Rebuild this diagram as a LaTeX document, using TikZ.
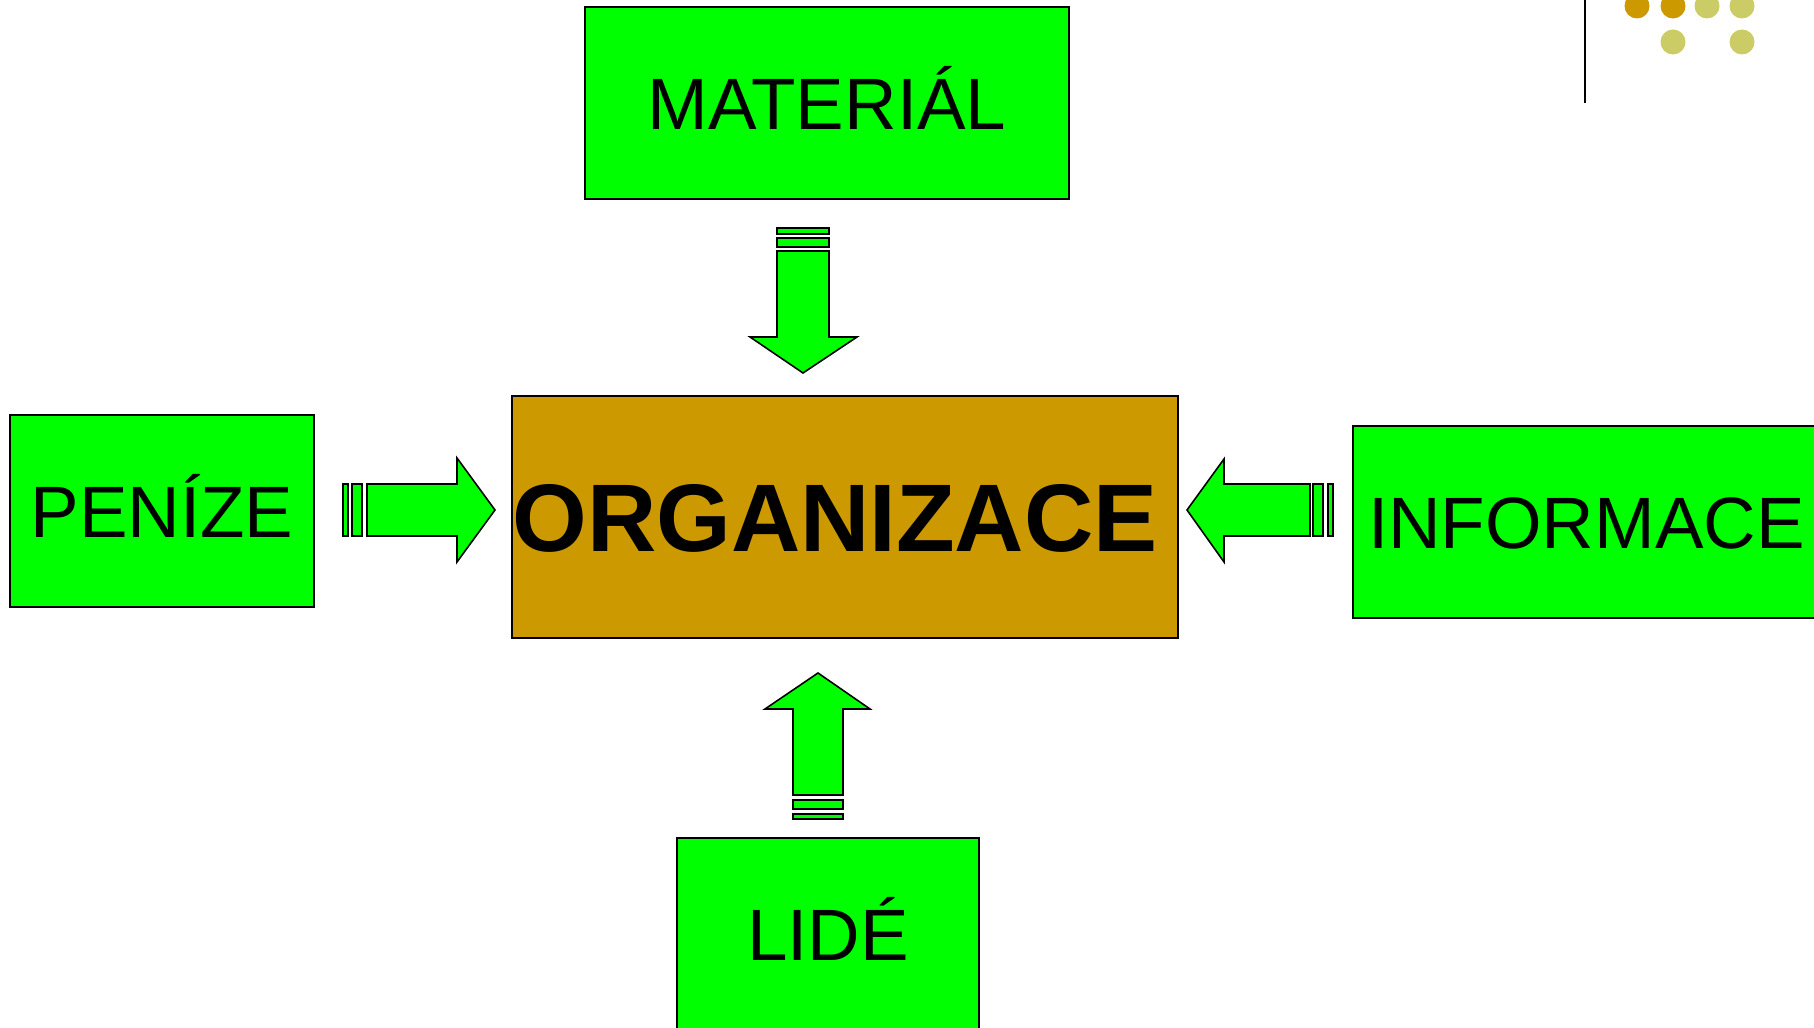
\documentclass[tikz,border=0pt]{standalone}
\usepackage{fontspec}
\setmainfont{Liberation Sans}
\usepackage{tikz}
\usetikzlibrary{positioning}
\definecolor{boxgreen}{HTML}{00FF00}
\definecolor{orggold}{HTML}{CC9900}
\definecolor{paleolive}{HTML}{CCCC66}

\begin{document}
\begin{tikzpicture}[x=0.01cm, y=-0.01cm,
  box/.style={draw, line width=0.6pt, fill=boxgreen, inner sep=0pt, text height=14.8pt, text depth=-1.2pt, font=\fontsize{20.7}{25}\selectfont},
  blockarrow/.style={draw, line width=0.45pt, fill=boxgreen, line join=miter}]
\useasboundingbox (0,0) rectangle (1814,1028);
\clip (0,0) rectangle (1814,1028);

\node[box, minimum width=4.84cm, minimum height=1.92cm] (mat) at (827,103) {MATERIÁL};
\node[box, fill=orggold, minimum width=6.65cm, minimum height=2.42cm, text width=6.65cm, align=left, text height=19.6pt, text depth=-0.4pt, font=\fontsize{27.3}{32}\selectfont\bfseries] (org) at (845,517) {ORGANIZACE};
\node[box, minimum width=3.03cm, minimum height=1.92cm] (pen) at (162,511) {PENÍZE};
\node[box, anchor=west, minimum width=4.8cm, minimum height=1.92cm, text width=4.5cm, inner xsep=0.14cm, align=left] (inf) at (1352,522) {INFORMACE};
\node[box, minimum width=3.02cm, minimum height=1.91cm] (lid) at (828,934) {LIDÉ};

% material -> organizace
\draw[blockarrow] (777,228) rectangle (829,234);
\draw[blockarrow] (777,238) rectangle (829,247);
\draw[blockarrow] (777,251) -- (829,251) -- (829,337) -- (857,337) -- (803,373) -- (750,337) -- (777,337) -- cycle;

% penize -> organizace
\draw[blockarrow] (343,484) rectangle (348,536);
\draw[blockarrow] (352,484) rectangle (362,536);
\draw[blockarrow] (367,484) -- (457,484) -- (457,458) -- (495,510) -- (457,562) -- (457,536) -- (367,536) -- cycle;

% informace -> organizace
\draw[blockarrow] (1313,484) rectangle (1323,536);
\draw[blockarrow] (1328,484) rectangle (1333,536);
\draw[blockarrow] (1310,484) -- (1224,484) -- (1224,459) -- (1187,510) -- (1224,562) -- (1224,536) -- (1310,536) -- cycle;

% lide -> organizace
\draw[blockarrow] (793,800) rectangle (843,809);
\draw[blockarrow] (793,814) rectangle (843,819);
\draw[blockarrow] (793,795) -- (793,709) -- (765,709) -- (818,673) -- (870,709) -- (843,709) -- (843,795) -- cycle;

% corner decoration
\draw[line width=0.6pt] (1585,0) -- (1585,103);
\fill[orggold] (1637,6) circle (0.125cm);
\fill[orggold] (1673,6) circle (0.125cm);
\fill[paleolive] (1707,6) circle (0.125cm);
\fill[paleolive] (1742,6) circle (0.125cm);
\fill[paleolive] (1673,42) circle (0.125cm);
\fill[paleolive] (1742,42) circle (0.125cm);
\end{tikzpicture}
\end{document}
